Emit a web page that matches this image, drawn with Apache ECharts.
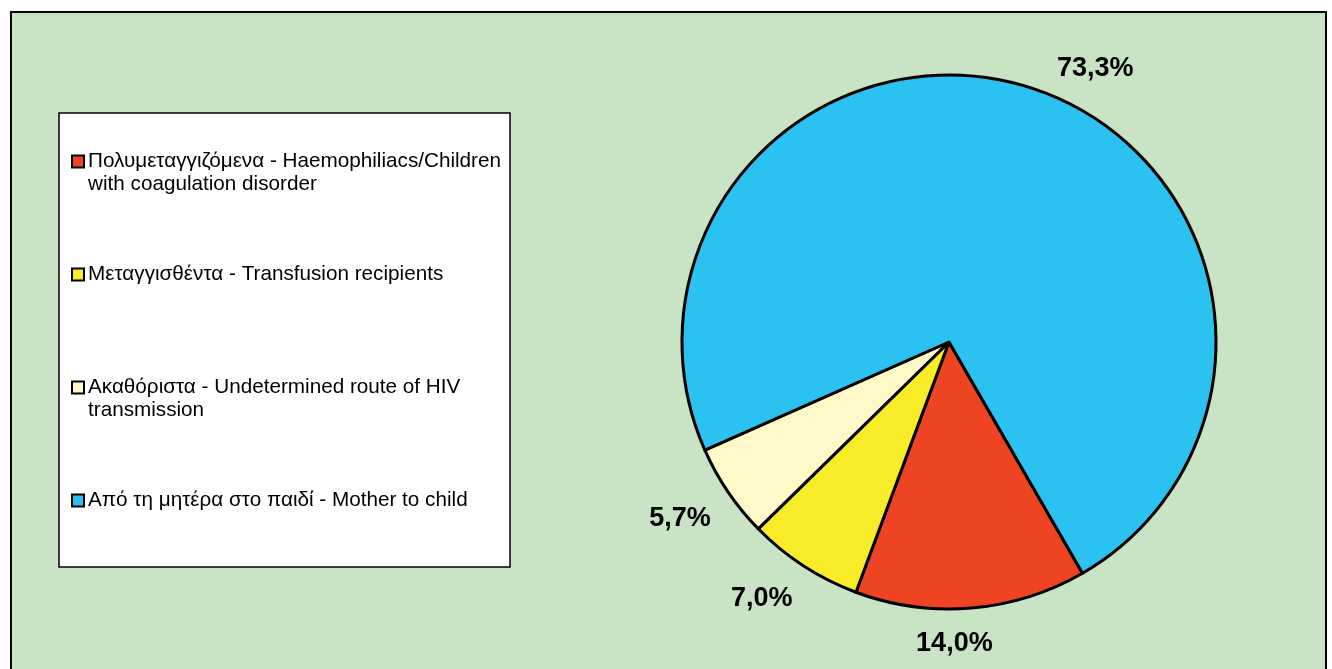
<!DOCTYPE html>
<html>
<head>
<meta charset="utf-8">
<script src="https://cdn.jsdelivr.net/npm/echarts@6/dist/echarts.min.js"></script>
<style>
html,body{margin:0;padding:0;background:#fff;}
#c{width:1332px;height:669px;}
</style>
</head>
<body>
<div id="c"></div>
<script>
var categories = [
  'Πολυμεταγγιζόμενα - Haemophiliacs/Children\nwith coagulation disorder',
  'Μεταγγισθέντα - Transfusion recipients',
  'Ακαθόριστα - Undetermined route of HIV\ntransmission',
  'Από τη μητέρα στο παιδί - Mother to child'
];
var values = [14.0, 7.0, 5.7, 73.3];
var valueLabels = ['14,0%', '7,0%', '5,7%', '73,3%'];
var colors = ['#EF4424', '#F8EC28', '#FFF9C7', '#2BC2F1'];
var labelShift = [[-63, 3], [12, 5], [15, 8], [10, 12]];

var rich = {
  gap: {width: 5, lineHeight: 23},
  ind: {width: 15, lineHeight: 23}
};
colors.forEach(function (c, i) {
  rich['m' + i] = {width: 10, height: 10, backgroundColor: c, borderColor: '#000', borderWidth: 2, lineHeight: 23};
});

var chart = echarts.init(document.getElementById('c'));
chart.setOption({
  backgroundColor: '#ffffff',
  animation: false,
  graphic: [{
    type: 'rect',
    shape: {x: 11, y: 12, width: 1315, height: 700},
    style: {fill: '#C9E3C5', stroke: '#000', lineWidth: 2},
    z: -10
  }],
  legend: {
    orient: 'vertical',
    left: 59,
    top: 113,
    padding: [37, 9, 32, 9],
    itemGap: 67,
    itemWidth: 0,
    itemHeight: 10,
    icon: 'none',
    backgroundColor: '#ffffff',
    borderColor: '#000',
    borderWidth: 1.5,
    data: categories,
    formatter: function (name) {
      var idx = categories.indexOf(name);
      var lines = name.split('\n');
      var s = '{m' + idx + '|}{gap|}' + lines[0];
      for (var i = 1; i < lines.length; i++) s += '\n{ind|}' + lines[i];
      if (lines.length < 2) s += '\n{ind|} ';
      return s;
    },
    textStyle: {
      fontFamily: 'Liberation Sans, Arial, sans-serif',
      fontSize: 20.7,
      lineHeight: 23,
      color: '#000',
      rich: rich
    }
  },
  series: [{
    type: 'pie',
    center: [949, 342],
    radius: 267,
    startAngle: -60,
    clockwise: true,
    data: categories.map(function (n, i) {
      return {name: n, value: values[i], itemStyle: {color: colors[i]}};
    }),
    itemStyle: {borderColor: '#000', borderWidth: 3},
    emphasis: {disabled: true},
    label: {
      show: true,
      position: 'outside',
      formatter: function (p) { return valueLabels[p.dataIndex]; },
      fontFamily: 'Liberation Sans, Arial, sans-serif',
      fontWeight: 'bold',
      fontSize: 27,
      color: '#000'
    },
    labelLine: {show: false, length: 33, length2: 0},
    avoidLabelOverlap: false,
    labelLayout: function (p) {
      var s = labelShift[p.dataIndex];
      return {dx: s[0], dy: s[1]};
    }
  }]
});
</script>
</body>
</html>
